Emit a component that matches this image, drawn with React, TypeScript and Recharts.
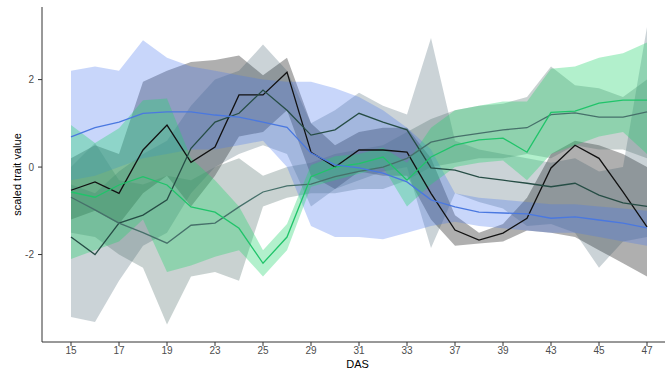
import React from 'react';
import {
  ComposedChart,
  Area,
  Line,
  XAxis,
  YAxis,
} from 'recharts';

const das = [15, 16, 17, 18, 19, 21, 23, 24, 25, 27, 29, 30, 31, 32, 33, 35, 37, 38, 39, 41, 43, 44, 45, 46, 47];

// black line
const s1Mean = [-0.53, -0.34, -0.6, 0.39, 0.96, 0.11, 0.46, 1.65, 1.65, 2.17, 0.34, 0.0, 0.39, 0.39, 0.34, -0.6, -1.44, -1.67, -1.51, -1.17, -0.02, 0.5, 0.2, -0.57, -1.37];
const s1Upper = [0.2, 0.5, 0.3, 1.95, 2.2, 2.4, 2.45, 2.55, 2.1, 2.5, 1.0, 0.5, 0.8, 0.9, 0.9, 0.2, -1.1, -1.5, -1.3, -0.7, 0.3, 0.6, 0.5, 0.3, 0.0];
const s1Lower = [-1.2, -1.0, -1.3, -0.6, -0.2, -0.9, -0.2, 0.7, 0.8, 1.3, -0.2, -0.5, -0.1, -0.2, -0.2, -1.2, -1.8, -1.75, -1.7, -1.45, -1.5, -1.6, -1.9, -2.2, -2.5];

// dark slate line
const s2Mean = [-1.6, -2.0, -1.28, -1.1, -0.75, 0.43, 1.03, 1.23, 1.76, 1.3, 0.73, 0.85, 1.23, 1.03, 0.85, -0.02, -0.07, -0.23, -0.3, -0.37, -0.45, -0.37, -0.64, -0.82, -0.9];
const s2Upper = [-0.4, -0.6, -0.1, 0.3, 0.6, 1.4, 2.0, 2.2, 2.8, 2.2, 1.0, 1.3, 1.7, 1.4, 1.2, 2.95, 0.6, 0.4, 0.3, 0.2, 0.1, 0.2, -0.1, 0.0, 3.2];
const s2Lower = [-3.43, -3.54, -2.6, -1.8, -1.5, -0.6, 0.0, 0.3, 0.5, 0.3, -0.9, -0.5, -0.3, -0.1, 0.0, -1.85, -0.6, -0.8, -0.95, -1.35, -1.3, -1.5, -2.3, -1.7, -1.6];

// grey-green line
const s3Mean = [-0.69, -0.98, -1.28, -1.5, -1.74, -1.33, -1.28, -0.91, -0.57, -0.43, -0.39, -0.22, -0.1, 0.0, 0.2, 0.57, 0.69, 0.77, 0.85, 0.9, 1.2, 1.24, 1.14, 1.14, 1.26];
const s3Upper = [0.0, 0.55, -0.3, -0.4, -0.2, -0.3, 0.0, 0.2, -0.2, 0.0, 0.1, 0.3, 0.4, 0.5, 0.8, 1.1, 1.3, 1.4, 1.45, 1.6, 2.3, 1.87, 1.8, 1.6, 2.0];
const s3Lower = [-1.5, -1.6, -2.0, -2.3, -3.6, -2.5, -2.4, -2.6, -0.9, -0.7, -0.6, -0.6, -0.5, -0.5, -0.3, 0.0, 0.1, 0.2, 0.2, 0.3, 0.2, 0.5, 0.4, 0.4, 0.2];

// bright green line
const s4Mean = [-0.57, -0.69, -0.41, -0.22, -0.41, -0.91, -1.03, -1.4, -2.2, -1.6, -0.22, 0.0, 0.08, 0.23, -0.3, 0.23, 0.5, 0.62, 0.66, 0.34, 1.25, 1.28, 1.46, 1.53, 1.53];
const s4Upper = [0.96, 0.55, 0.89, 1.53, 1.57, 0.2, -0.3, -0.9, -1.9, -1.3, 0.05, 0.25, 0.3, 0.45, 0.1, 0.9, 1.3, 1.4, 1.5, 1.5, 2.25, 2.3, 2.5, 2.6, 2.85];
const s4Lower = [-2.1, -1.9, -1.7, -1.2, -2.4, -2.25, -2.05, -1.9, -2.5, -1.9, -0.45, -0.3, -0.15, 0.0, -0.9, -0.4, 0.0, 0.1, 0.15, -0.3, 0.3, 0.5, 0.7, 0.8, 0.3];

// blue line
const s5Mean = [0.69, 0.9, 1.03, 1.23, 1.26, 1.26, 1.19, 1.14, 1.03, 0.91, 0.32, 0.05, -0.02, -0.14, -0.34, -0.75, -0.91, -1.03, -1.05, -1.07, -1.17, -1.14, -1.21, -1.28, -1.39];
const s5Upper = [2.2, 2.3, 2.2, 2.9, 2.5, 2.3, 2.2, 2.1, 2.0, 1.95, 1.95, 1.8, 1.6, 1.3, 0.9, 0.4, -0.6, -0.7, -0.75, -0.8, -0.85, -0.85, -0.9, -0.95, -1.0];
const s5Lower = [-0.3, -0.2, 0.0, 0.2, 0.3, 0.4, 0.4, 0.5, 0.6, 0.0, -1.35, -1.6, -1.6, -1.65, -1.5, -1.35, -1.25, -1.35, -1.4, -1.45, -1.5, -1.5, -1.6, -1.7, -1.8];

const yTicks = [-2, 0, 2];

const data = das.map((d, i) => ({
  das: String(d),
  s1: s1Mean[i], s1r: [s1Lower[i], s1Upper[i]],
  s2: s2Mean[i], s2r: [s2Lower[i], s2Upper[i]],
  s3: s3Mean[i], s3r: [s3Lower[i], s3Upper[i]],
  s4: s4Mean[i], s4r: [s4Lower[i], s4Upper[i]],
  s5: s5Mean[i], s5r: [s5Lower[i], s5Upper[i]],
}));

const font = 'Liberation Sans, Arial, sans-serif';

const ribbons = [
  { key: 's1r', fill: '#1a1a1a', op: 0.35 },
  { key: 's2r', fill: '#2f4f5f', op: 0.25 },
  { key: 's3r', fill: '#4d6b66', op: 0.3 },
  { key: 's5r', fill: '#4a78f0', op: 0.3 },
  { key: 's4r', fill: '#22d36e', op: 0.35 },
];

const lines = [
  { key: 's1', stroke: '#111111' },
  { key: 's2', stroke: '#264d45' },
  { key: 's3', stroke: '#46706a' },
  { key: 's4', stroke: '#20c46a' },
  { key: 's5', stroke: '#4a78e0' },
];

export default function App() {
  return (
    <div style={{ position: 'absolute', left: 0, top: 0, background: '#fff' }}>
      <ComposedChart
        width={667}
        height={374}
        data={data}
        margin={{ top: 7, right: 2, bottom: 0, left: 0 }}
      >
        <XAxis
          dataKey="das"
          interval={1}
          height={32}
          padding={{ left: 29, right: 18 }}
          tickSize={4}
          tickMargin={1}
          axisLine={{ stroke: '#333' }}
          tickLine={{ stroke: '#333' }}
          tick={{ fontSize: 10, fill: '#4d4d4d', fontFamily: font }}
          label={{ value: 'DAS', position: 'insideBottom', offset: 6, dx: 4, style: { fontSize: 11, fill: '#000', fontFamily: font } }}
        />
        <YAxis
          type="number"
          domain={[-4.0, 3.66]}
          ticks={yTicks}
          allowDataOverflow
          width={42}
          tickSize={4}
          tickMargin={4}
          axisLine={{ stroke: '#333' }}
          tickLine={{ stroke: '#333' }}
          tick={{ fontSize: 10, fill: '#4d4d4d', fontFamily: font }}
          label={{ value: 'scaled trait value', angle: -90, position: 'insideLeft', offset: 17, style: { textAnchor: 'middle', fontSize: 11, fill: '#000', fontFamily: font } }}
        />
        {ribbons.map((r) => (
          <Area
            key={r.key}
            dataKey={r.key}
            type="linear"
            stroke="none"
            fill={r.fill}
            fillOpacity={r.op}
            isAnimationActive={false}
            activeDot={false}
          />
        ))}
        {lines.map((l) => (
          <Line
            key={l.key}
            dataKey={l.key}
            type="linear"
            stroke={l.stroke}
            strokeWidth={1.3}
            dot={false}
            activeDot={false}
            isAnimationActive={false}
          />
        ))}
      </ComposedChart>
    </div>
  );
}
